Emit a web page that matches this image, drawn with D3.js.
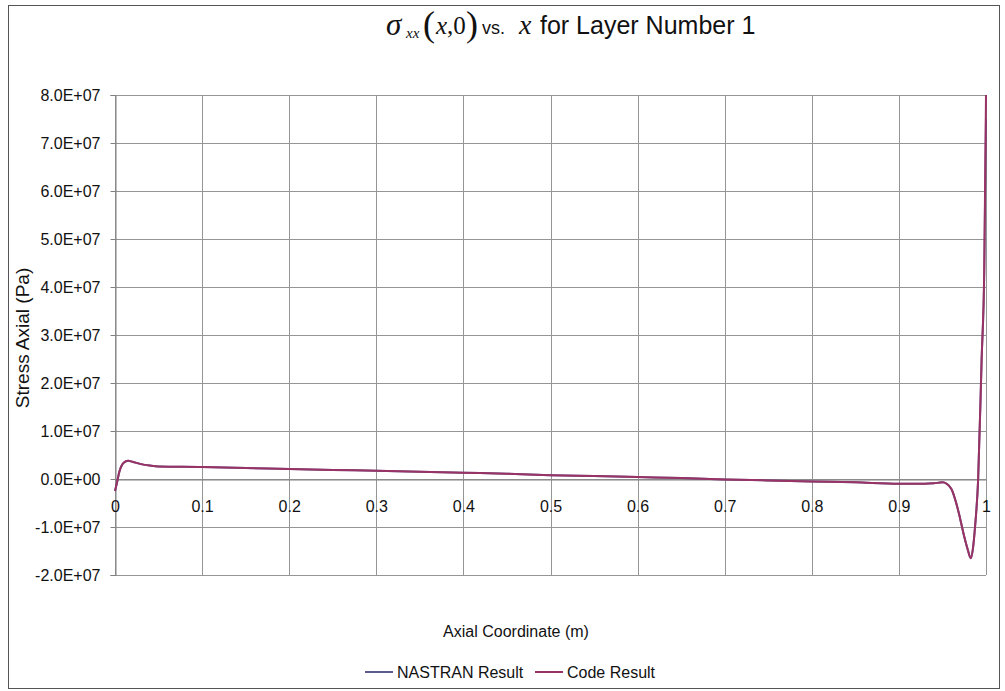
<!DOCTYPE html>
<html>
<head>
<meta charset="utf-8">
<script src="https://cdn.jsdelivr.net/npm/d3@7"></script>
<style>
  html, body { margin: 0; padding: 0; background: #fff; }
  svg { display: block; }
</style>
</head>
<body>
<svg id="chart" width="1005" height="691"></svg>
<script>
// ---- data ----
const xTicks = [0, 0.1, 0.2, 0.3, 0.4, 0.5, 0.6, 0.7, 0.8, 0.9, 1];
const xTickLabels = ["0", "0.1", "0.2", "0.3", "0.4", "0.5", "0.6", "0.7", "0.8", "0.9", "1"];
const yTicks = [-2e7, -1e7, 0, 1e7, 2e7, 3e7, 4e7, 5e7, 6e7, 7e7, 8e7];
const yTickLabels = ["-2.0E+07", "-1.0E+07", "0.0E+00", "1.0E+07", "2.0E+07", "3.0E+07", "4.0E+07", "5.0E+07", "6.0E+07", "7.0E+07", "8.0E+07"];

const xCoord = [0, 0.002, 0.005, 0.01, 0.015, 0.02, 0.03, 0.04, 0.05, 0.1, 0.15, 0.2, 0.25, 0.3, 0.35, 0.4, 0.45, 0.5, 0.55, 0.6, 0.65, 0.7, 0.75, 0.8, 0.85, 0.9, 0.93, 0.94, 0.95, 0.96, 0.965, 0.97, 0.975, 0.979, 0.9825, 0.985, 0.9875, 0.991, 0.995, 0.998, 1.0];
const nastranStress = [-2.5e6, -1.0e6, 1.5e6, 3.4e6, 3.8e6, 3.6e6, 3.1e6, 2.8e6, 2.6e6, 2.5e6, 2.3e6, 2.1e6, 1.9e6, 1.7e6, 1.5e6, 1.3e6, 1.1e6, 0.8e6, 0.6e6, 0.4e6, 0.2e6, -0.1e6, -0.3e6, -0.5e6, -0.7e6, -1.0e6, -1.0e6, -0.9e6, -0.7e6, -2.0e6, -4.5e6, -8.0e6, -12.0e6, -14.7e6, -16.5e6, -14.5e6, -9.8e6, 0, 2.5e7, 4.3e7, 7.5e7];
const codeStress = [-2.5e6, -1.0e6, 1.5e6, 3.4e6, 3.8e6, 3.6e6, 3.1e6, 2.8e6, 2.6e6, 2.5e6, 2.3e6, 2.1e6, 1.9e6, 1.7e6, 1.5e6, 1.3e6, 1.1e6, 0.8e6, 0.6e6, 0.4e6, 0.2e6, -0.1e6, -0.3e6, -0.5e6, -0.7e6, -1.0e6, -1.0e6, -0.9e6, -0.7e6, -2.0e6, -4.5e6, -8.0e6, -12.0e6, -14.7e6, -16.5e6, -14.5e6, -9.8e6, 0, 2.5e7, 4.4e7, 8.0e7];

const seriesNames = ["NASTRAN Result", "Code Result"];
const seriesColors = ["#5d5a8c", "#993366"];

// ---- layout ----
const svg = d3.select("#chart");
const sans = "'Liberation Sans', Arial, sans-serif";
const serif = "'Liberation Serif', 'Times New Roman', serif";

const x = d3.scaleLinear().domain([0, 1]).range([115, 986]);
const y = d3.scaleLinear().domain([-2e7, 8e7]).range([575, 95]);

// outer border
svg.append("rect").attr("x", 8.5).attr("y", 5.5).attr("width", 991).attr("height", 683)
  .attr("fill", "none").attr("stroke", "#555").attr("stroke-width", 1);

// gridlines
svg.append("g").selectAll("line.h").data(yTicks).join("line")
  .attr("x1", x(0)).attr("x2", x(1))
  .attr("y1", d => Math.round(y(d)) + 0.5).attr("y2", d => Math.round(y(d)) + 0.5)
  .attr("stroke", "#959595").attr("stroke-width", 1);
svg.append("g").selectAll("line.v").data(xTicks).join("line")
  .attr("x1", d => Math.round(x(d)) + 0.5).attr("x2", d => Math.round(x(d)) + 0.5)
  .attr("y1", y(8e7)).attr("y2", y(-2e7))
  .attr("stroke", "#959595").attr("stroke-width", 1);

// y axis
const yAxis = d3.axisLeft(y).tickValues(yTicks).tickSize(5)
  .tickFormat((d, i) => yTickLabels[i]);
const gy = svg.append("g").attr("transform", `translate(${x(0) + 0.5},0)`).call(yAxis);
gy.select(".domain").attr("stroke", "#808080");
gy.selectAll(".tick line").attr("stroke", "#808080");
gy.selectAll(".tick text").attr("font-family", sans).attr("font-size", 16)
  .attr("fill", "#111").attr("x", -15);

// x axis tick labels (axis crosses at y = 0)
const xAxis = d3.axisBottom(x).tickValues(xTicks).tickSize(0)
  .tickFormat((d, i) => xTickLabels[i]);
const gx = svg.append("g").attr("transform", `translate(0,${Math.round(y(0)) + 0.5})`).call(xAxis);
gx.select(".domain").attr("stroke", "#808080");
gx.selectAll(".tick text").attr("font-family", sans).attr("font-size", 16)
  .attr("fill", "#111").attr("y", 21);

// lines
const line = d3.line().x(d => x(d[0])).y(d => y(d[1])).curve(d3.curveMonotoneX);
const series = [nastranStress, codeStress];
series.forEach((vals, si) => {
  svg.append("path")
    .datum(xCoord.map((xv, i) => [xv, vals[i]]))
    .attr("fill", "none").attr("stroke", seriesColors[si])
    .attr("stroke-width", 2).attr("stroke-linejoin", "round")
    .attr("d", line);
});

// title
const t = svg.append("g");
t.append("text").attr("x", 386).attr("y", 35).attr("font-family", serif)
  .attr("font-style", "italic").attr("font-size", 31).attr("fill", "#111").text("σ");
t.append("text").attr("x", 406).attr("y", 38).attr("font-family", serif)
  .attr("font-style", "italic").attr("font-size", 15).attr("fill", "#111").text("xx");
t.append("text").attr("x", 423).attr("y", 36).attr("font-family", serif)
  .attr("font-size", 36).attr("fill", "#111").text("(");
const xz = t.append("text").attr("x", 436).attr("y", 34).attr("font-family", serif)
  .attr("font-size", 25).attr("fill", "#111");
xz.append("tspan").attr("font-style", "italic").text("x");
xz.append("tspan").text(",0");
t.append("text").attr("x", 466).attr("y", 36).attr("font-family", serif)
  .attr("font-size", 36).attr("fill", "#111").text(")");
t.append("text").attr("x", 482).attr("y", 34).attr("font-family", sans)
  .attr("font-size", 18).attr("fill", "#111").text("vs.");
t.append("text").attr("x", 519).attr("y", 34).attr("font-family", serif)
  .attr("font-style", "italic").attr("font-size", 28).attr("fill", "#111").text("x");
t.append("text").attr("x", 540).attr("y", 34).attr("font-family", sans)
  .attr("font-size", 25).attr("fill", "#111").text("for Layer Number 1");

// axis titles
svg.append("text").attr("x", 516).attr("y", 637).attr("text-anchor", "middle")
  .attr("font-family", sans).attr("font-size", 16).attr("fill", "#111")
  .text("Axial Coordinate (m)");
svg.append("text").attr("transform", `translate(29,338) rotate(-90)`)
  .attr("text-anchor", "middle").attr("font-family", sans).attr("font-size", 19)
  .attr("fill", "#111").text("Stress Axial (Pa)");

// legend
const legendX = [365, 535];
seriesNames.forEach((name, i) => {
  const g = svg.append("g").attr("transform", `translate(${legendX[i]},672)`);
  g.append("line").attr("x1", 0).attr("x2", 28).attr("y1", 0).attr("y2", 0)
    .attr("stroke", seriesColors[i]).attr("stroke-width", 2);
  g.append("text").attr("x", 32).attr("y", 6).attr("font-family", sans)
    .attr("font-size", 16).attr("fill", "#111").text(name);
});
</script>
</body>
</html>
